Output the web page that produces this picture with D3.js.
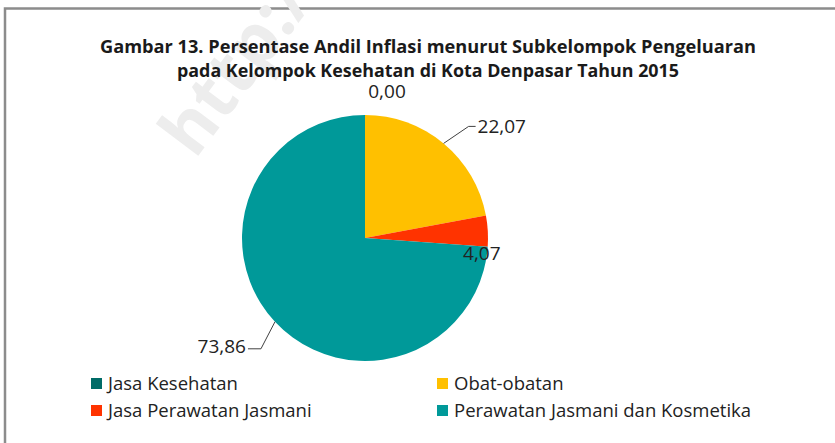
<!DOCTYPE html>
<html>
<head>
<meta charset="utf-8">
<script src="https://cdn.jsdelivr.net/npm/d3@7"></script>
<style>
  body { margin: 0; background: #fff; }
  text { font-family: "Open Sans", "Noto Sans", sans-serif; }
</style>
</head>
<body>
<svg id="chart" width="835" height="443"></svg>
<script>
// data
const categories = ["Jasa Kesehatan", "Obat-obatan", "Jasa Perawatan Jasmani", "Perawatan Jasmani dan Kosmetika"];
const values = [0.00, 22.07, 4.07, 73.86];
const colors = ["#006B67", "#FFC000", "#FF3300", "#009999"];
const titleLines = [
  "Gambar 13. Persentase Andil Inflasi menurut Subkelompok Pengeluaran",
  "pada Kelompok Kesehatan di Kota Denpasar Tahun 2015"
];

const svg = d3.select("#chart");
const cx = 365, cy = 238, r = 123;
const labelSize = 19;

// frame (right and bottom edges run off the picture)
svg.append("rect")
  .attr("x", 5).attr("y", 8.5)
  .attr("width", 900).attr("height", 500)
  .attr("fill", "none")
  .attr("stroke", "#8c8c8c")
  .attr("stroke-width", 2.5);

// faint watermark
svg.append("text")
  .attr("transform", "translate(195,160) rotate(-53)")
  .attr("font-size", 70)
  .attr("font-weight", "bold")
  .attr("fill", "#ededed")
  .text("http://");

// title
svg.selectAll("text.title")
  .data(titleLines)
  .join("text")
  .attr("class", "title")
  .attr("x", 428)
  .attr("y", (d, i) => 53 + i * 24)
  .attr("text-anchor", "middle")
  .attr("font-size", 17)
  .attr("font-weight", "bold")
  .attr("fill", "#1a1a1a")
  .attr("textLength", (d, i) => i === 0 ? 656 : 502)
  .attr("lengthAdjust", "spacingAndGlyphs")
  .text(d => d);

// pie
const pie = d3.pie().sort(null).value(d => d)(values);
const arc = d3.arc().innerRadius(0).outerRadius(r);
const g = svg.append("g").attr("transform", `translate(${cx},${cy})`);

g.selectAll("path")
  .data(pie)
  .join("path")
  .attr("d", arc)
  .attr("fill", (d, i) => colors[i]);

// labels
const fmt = v => v.toFixed(2).replace(".", ",");
const mid = d => (d.startAngle + d.endAngle) / 2;
const edge = (d, rr) => [Math.sin(mid(d)) * rr, -Math.cos(mid(d)) * rr];

// 0,00 sits above the top of the pie
{
  const d = pie[0];
  const p = edge(d, r + 17);
  g.append("text")
    .attr("x", p[0] + 22).attr("y", p[1])
    .attr("text-anchor", "middle")
    .attr("font-size", labelSize).attr("fill", "#222")
    .text(fmt(values[0]));
}

// 22,07 with leader line to the right
{
  const d = pie[1];
  const p0 = edge(d, r);
  const p1 = [p0[0] + 25, p0[1] - 17];
  const p2 = [p1[0] + 7, p1[1]];
  g.append("path")
    .attr("d", d3.line()([p0, p1, p2]))
    .attr("fill", "none").attr("stroke", "#404040").attr("stroke-width", 1);
  g.append("text")
    .attr("x", p2[0] + 2).attr("y", p2[1] + 7)
    .attr("font-size", labelSize).attr("fill", "#222")
    .text(fmt(values[1]));
}

// 4,07 on the edge of its slice
{
  const d = pie[2];
  const p = edge(d, r - 6);
  g.append("text")
    .attr("x", p[0]).attr("y", p[1] + 29)
    .attr("text-anchor", "middle")
    .attr("font-size", labelSize).attr("fill", "#222")
    .text(fmt(values[2]));
}

// 73,86 with leader line to the left
{
  const d = pie[3];
  const p0 = edge(d, r);
  const p1 = [p0[0] - 14, p0[1] + 27];
  const p2 = [p1[0] - 13, p1[1]];
  g.append("path")
    .attr("d", d3.line()([p0, p1, p2]))
    .attr("fill", "none").attr("stroke", "#404040").attr("stroke-width", 1);
  g.append("text")
    .attr("x", p2[0] - 2).attr("y", p2[1] + 4)
    .attr("text-anchor", "end")
    .attr("font-size", labelSize).attr("fill", "#222")
    .text(fmt(values[3]));
}

// legend
const leg = svg.append("g");
const legX = [91, 437], legY = [383, 410];
const item = leg.selectAll("g")
  .data(categories)
  .join("g")
  .attr("transform", (d, i) => `translate(${legX[i % 2]},${legY[Math.floor(i / 2)]})`);
item.append("rect")
  .attr("x", 0).attr("y", -5)
  .attr("width", 11).attr("height", 11)
  .attr("fill", (d, i) => colors[i]);
item.append("text")
  .attr("x", 17).attr("y", 6.5)
  .attr("font-size", 18.5).attr("fill", "#222")
  .text(d => d);
</script>
</body>
</html>
